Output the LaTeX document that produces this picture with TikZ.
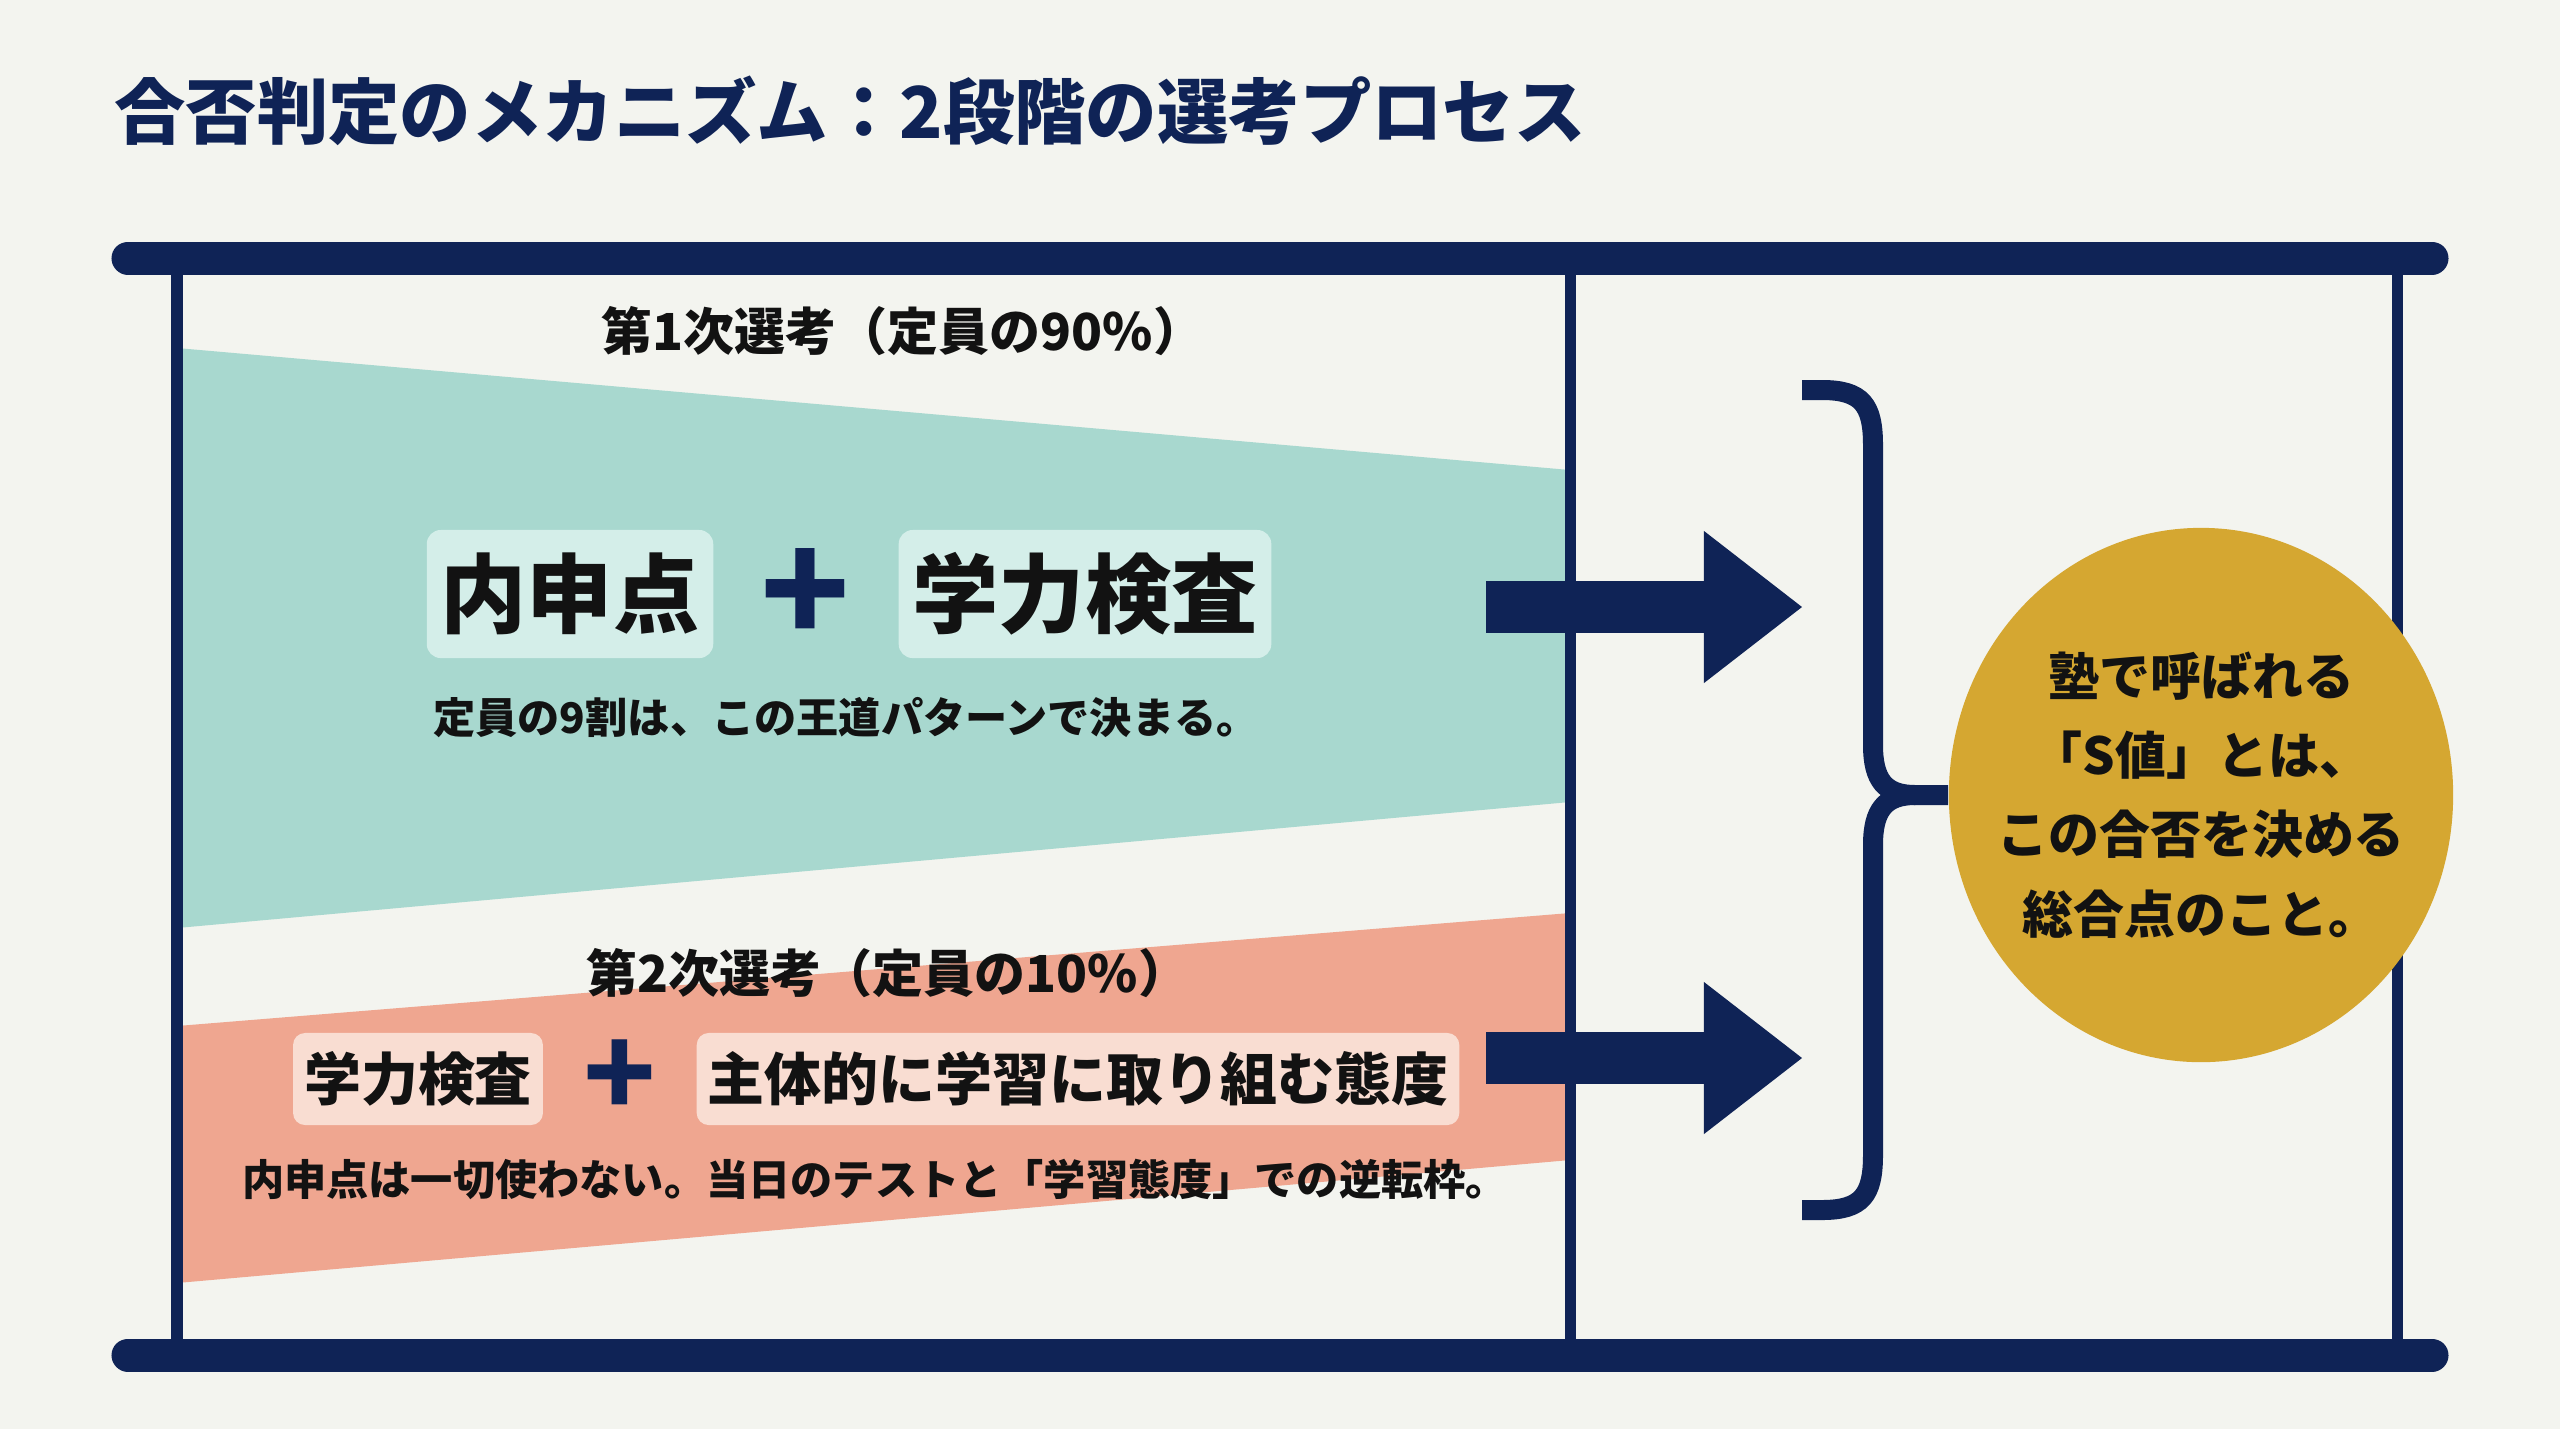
\documentclass[tikz,border=0pt]{standalone}
\usepackage{fontspec}
\setmainfont{Noto Sans CJK JP}
\usepackage{xcolor}
\usepackage{tikz}
\usetikzlibrary{arrows.meta,positioning,shapes.geometric}
\definecolor{Navy}{HTML}{0F2356}
\definecolor{Paper}{HTML}{F3F4EF}
\definecolor{Ink}{HTML}{121212}
\definecolor{Mint}{HTML}{A8D8CF}
\definecolor{MintBox}{HTML}{D4EEE9}
\definecolor{Coral}{HTML}{EFA690}
\definecolor{CoralBox}{HTML}{F9DDD2}
\definecolor{Mustard}{HTML}{D5A731}

\begin{document}
\begin{tikzpicture}[x=0.01cm, y=-0.01cm,
  rail/.style={draw=Navy, line width=3.3mm, line cap=round},
  post/.style={draw=Navy, line width=1.1mm},
  stage/.style={text=Ink, font=\bfseries\fontsize{14.5}{18}\selectfont},
  note/.style={text=Ink, font=\bfseries\fontsize{12}{14}\selectfont},
  bigterm/.style={fill=MintBox, rounded corners=1.4mm, inner xsep=1.4mm,
    minimum height=12.8mm, text=Ink, font=\bfseries\fontsize{24.5}{28}\selectfont},
  term/.style={fill=CoralBox, rounded corners=1.2mm, inner xsep=1.1mm,
    minimum height=9.2mm, text=Ink, font=\bfseries\fontsize{16.2}{19}\selectfont},
  plussign/.style={text=Navy, inner sep=0pt, font=\bfseries\fontsize{42}{42}\selectfont},
  flow/.style={draw=Navy, line width=5.2mm,
    -{Triangle[length=9.8mm, width=15.2mm, line width=0pt]}},
  brace/.style={draw=Navy, line width=2mm},
  sval/.style={ellipse, fill=Mustard, minimum width=5.04cm, minimum height=5.34cm, inner sep=0pt},
  svaltext/.style={align=center, text=Ink, font=\bfseries\fontsize{14.5}{22.5}\selectfont}
]
  \fill[Paper] (0,0) rectangle (2560,1429);
  \useasboundingbox (0,0) rectangle (2560,1429);
  \node[anchor=west, text=Navy, font=\bfseries\fontsize{20.3}{24}\selectfont] (title) at (102,111)
    {合否判定のメカニズム：2段階の選考プロセス};

  \fill[Mint] (177,348) -- (1570,470) -- (1570,802) -- (177,928) -- cycle;
  \fill[Coral] (177,1026) -- (1570,913) -- (1570,1160) -- (177,1283) -- cycle;

  \draw[post] (177,258) -- (177,1355);
  \draw[post] (1570,258) -- (1570,1355);
  \draw[post] (2397,258) -- (2397,1355);
  \draw[rail] (128,258) -- (2432,258);
  \draw[rail] (128,1355) -- (2432,1355);

  \node[stage] (first) at (903,331) {第1次選考（定員の90\%）};
  \node[bigterm] (naishin) at (570,594) {内申点};
  \node[plussign] (plusA) at (805,596) {+};
  \node[bigterm] (gakuryokuA) at (1085,594) {学力検査};
  \node[note] (firstnote) at (846,718) {定員の9割は、この王道パターンで決まる。};

  \node[stage] (second) at (888,973) {第2次選考（定員の10\%）};
  \node[term] (gakuryokuB) at (418,1079) {学力検査};
  \node[plussign, font=\bfseries\fontsize{34}{34}\selectfont] (plusB) at (620,1079) {+};
  \node[term] (taido) at (1078,1079) {主体的に学習に取り組む態度};
  \node[note] (secondnote) at (875,1179) {内申点は一切使わない。当日のテストと「学習態度」での逆転枠。};

  \coordinate (flowA) at (1486,607);
  \coordinate (flowB) at (1486,1058);
  \coordinate (braceTop) at (1802,390);
  \coordinate (braceBot) at (1802,1210);
  \draw[flow] (flowA) -- (braceTop |- flowA);
  \draw[flow] (flowB) -- (braceTop |- flowB);

  \node[sval] (svalue) at (2201,795) {};
  \node[svaltext] (svaluetext) at (svalue.center) {塾で呼ばれる\\「S値」とは、\\この合否を決める\\総合点のこと。};
  \draw[brace] (braceTop) -- (1822,390) .. controls (1862,390) and (1873,405) .. (1873,445)
    -- (1873,745) .. controls (1873,780) and (1885,795) .. (1915,795) -- (svalue.west);
  \draw[brace] (braceBot) -- (1822,1210) .. controls (1862,1210) and (1873,1195) .. (1873,1155)
    -- (1873,845) .. controls (1873,810) and (1885,795) .. (1915,795);
\end{tikzpicture}
\end{document}
